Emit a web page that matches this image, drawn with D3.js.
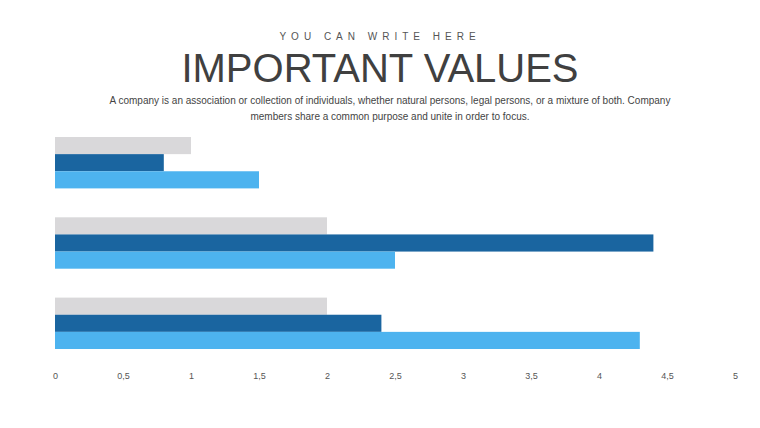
<!DOCTYPE html>
<html>
<head>
<meta charset="utf-8">
<script src="https://cdn.jsdelivr.net/npm/d3@7"></script>
<style>
  body { margin: 0; background: #fff; }
  text { font-family: "Liberation Sans", Arial, sans-serif; }
</style>
</head>
<body>
<svg id="chart" width="760" height="428"></svg>
<script>
// Datos del grafico
const grupos = ["A", "B", "C"];
const serieGris = [1.0, 2.0, 2.0];
const serieOscura = [0.8, 4.4, 2.4];
const serieClara = [1.5, 2.5, 4.3];
const ticks = [0, 0.5, 1, 1.5, 2, 2.5, 3, 3.5, 4, 4.5, 5];

const svg = d3.select("#chart");

/* Titulos */
svg.append("text").attr("x", 380).attr("y", 40).attr("text-anchor", "middle")
  .attr("font-size", 10).attr("letter-spacing", 5).attr("fill", "#555")
  .text("YOU CAN WRITE HERE");
svg.append("text").attr("x", 380).attr("y", 82).attr("text-anchor", "middle")
  .attr("font-size", 40).attr("fill", "#404040")
  .text("IMPORTANT VALUES");
svg.append("text").attr("x", 390).attr("y", 104).attr("text-anchor", "middle")
  .attr("font-size", 10).attr("fill", "#444")
  .text("A company is an association or collection of individuals, whether natural persons, legal persons, or a mixture of both. Company");
svg.append("text").attr("x", 390).attr("y", 120).attr("text-anchor", "middle")
  .attr("font-size", 10).attr("fill", "#444")
  .text("members share a common purpose and unite in order to focus.");

/* Escalas */
const x = d3.scaleLinear().domain([0, 5]).range([55, 735]);
const y = d3.scaleBand().domain(grupos).range([137, 349]).paddingInner(0.36).paddingOuter(0);
const sub = d3.scaleBand().domain([0, 1, 2]).range([0, y.bandwidth()]);

const series = [
  { valores: serieGris, color: "#d9d8da" },
  { valores: serieOscura, color: "#1a65a0" },
  { valores: serieClara, color: "#4db3ef" }
];

series.forEach((s, i) => {
  svg.append("g").selectAll("rect")
    .data(s.valores)
    .enter().append("rect")
    .attr("x", x(0))
    .attr("y", (d, j) => y(grupos[j]) + sub(i))
    .attr("width", d => x(d) - x(0))
    .attr("height", sub.bandwidth())
    .attr("fill", s.color);
});

/* Eje */
const eje = svg.append("g").attr("transform", "translate(0,370)")
  .call(d3.axisBottom(x).tickValues(ticks).tickSize(0)
    .tickFormat(d => String(d).replace(".", ",")));
eje.select(".domain").remove();
eje.selectAll("text").attr("font-size", 9).attr("fill", "#555");
</script>
</body>
</html>
